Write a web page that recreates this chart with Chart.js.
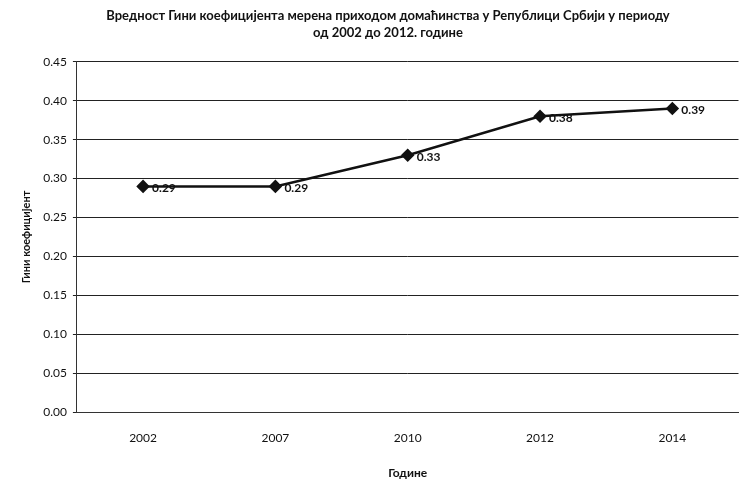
<!DOCTYPE html>
<html>
<head>
<meta charset="utf-8">
<script src="https://cdn.jsdelivr.net/npm/chart.js@4/dist/chart.umd.min.js"></script>
<style>
  html, body { margin: 0; padding: 0; background: #fff; }
  #wrap { width: 746px; height: 488px; }
</style>
</head>
<body>
<div id="wrap"><canvas id="c" width="746" height="488"></canvas></div>
<script>
const years = ['2002', '2007', '2010', '2012', '2014'];
const giniValues = [0.29, 0.29, 0.33, 0.38, 0.39];
const titleLines = [
  'Вредност Гини коефицијента мерена приходом домаћинства у Републици Србији у периоду',
  'од 2002 до 2012. године'
];
const yAxisTitle = 'Гини коефицијент';
const xAxisTitle = 'Године';

// labels to the right of each point
const pointLabels = {
  id: 'pointLabels',
  afterDatasetsDraw(chart) {
    const ctx = chart.ctx;
    const meta = chart.getDatasetMeta(0);
    ctx.save();
    ctx.font = 'bold 12px Lato';
    ctx.fillStyle = '#111';
    ctx.textBaseline = 'middle';
    meta.data.forEach((pt, i) => {
      ctx.fillText(giniValues[i].toFixed(2), pt.x + 9, pt.y + 2);
    });
    ctx.restore();
  }
};

const chart = new Chart(document.getElementById('c').getContext('2d'), {
  type: 'line',
  data: {
    labels: years,
    datasets: [{
      data: giniValues,
      borderColor: '#111',
      backgroundColor: '#111',
      borderWidth: 2.5,
      pointStyle: 'rectRot',
      pointRadius: 5,
      tension: 0
    }]
  },
  options: {
    responsive: false,
    animation: false,
    layout: { padding: { left: 16, right: -14, top: 4, bottom: 4 } },
    plugins: {
      legend: { display: false },
      tooltip: { enabled: false },
      title: {
        display: true,
        text: titleLines,
        color: '#111',
        font: { family: 'Lato', size: 13, weight: 'bold', lineHeight: 1.3 },
        padding: { top: 3, bottom: 21 }
      }
    },
    scales: {
      x: {
        offset: true,
        grid: { display: false, drawTicks: false },
        border: { color: '#333', width: 1 },
        ticks: { color: '#111', font: { family: 'Lato', size: 12 }, padding: 19 },
        title: {
          display: true, text: xAxisTitle, color: '#111',
          font: { family: 'Lato', size: 12, weight: 'bold' }, padding: { top: 1, bottom: 4 }
        }
      },
      y: {
        min: 0, max: 0.45,
        ticks: {
          stepSize: 0.05, color: '#111', padding: 6,
          font: { family: 'Lato', size: 12 },
          callback: v => v.toFixed(2)
        },
        grid: { color: '#222', lineWidth: 1, tickLength: 4 },
        border: { color: '#333', width: 1 },
        title: {
          display: true, text: yAxisTitle, color: '#111',
          font: { family: 'Lato', size: 11, weight: 'bold' }, padding: { bottom: 4 }
        }
      }
    }
  },
  plugins: [pointLabels]
});
</script>
</body>
</html>
